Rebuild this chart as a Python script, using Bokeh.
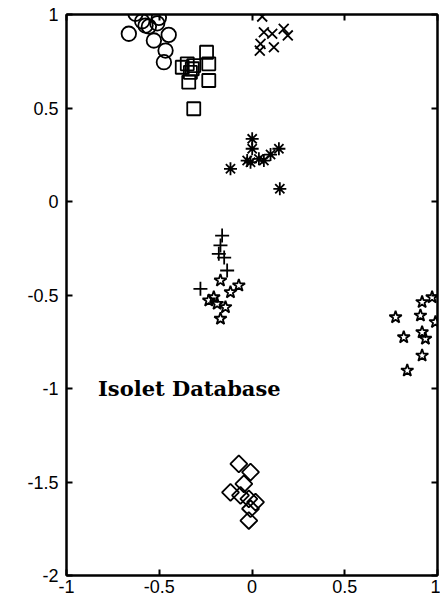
import numpy as np
from bokeh.plotting import figure
from bokeh.models import LinearAxis, FixedTicker
from bokeh.core.properties import value
from bokeh.embed import file_html
from bokeh.resources import INLINE

# ---- data ----
circle_x = [-0.628, -0.592, -0.502, -0.511, -0.556, -0.664, -0.449, -0.529, -0.466, -0.475, -0.574]
circle_y = [1.004, 0.964, 0.982, 0.953, 0.936, 0.897, 0.891, 0.861, 0.807, 0.745, 0.941]

square_x = [-0.245, -0.233, -0.349, -0.376, -0.322, -0.341, -0.233, -0.314, -0.314, -0.332]
square_y = [0.798, 0.736, 0.736, 0.718, 0.710, 0.638, 0.647, 0.496, 0.727, 0.691]

xmark_x = [0.055, 0.064, 0.109, 0.171, 0.193, 0.046, 0.118, 0.042]
xmark_y = [0.989, 0.905, 0.897, 0.923, 0.888, 0.843, 0.825, 0.807]

aster_x = [0.001, 0.001, -0.026, -0.008, 0.064, 0.100, 0.145, -0.116, 0.150, 0.037]
aster_y = [0.335, 0.282, 0.219, 0.210, 0.219, 0.251, 0.282, 0.175, 0.068, 0.228]

plus_x = [-0.161, -0.170, -0.179, -0.134, -0.278, -0.150]
plus_y = [-0.182, -0.235, -0.280, -0.369, -0.467, -0.300]

star_x = [-0.170, -0.071, -0.116, -0.233, -0.188, -0.143, -0.170, -0.206,
          0.917, 0.971, 0.774, 0.908, 0.989, 0.818, 0.917, 0.935, 0.917, 0.837]
star_y = [-0.422, -0.449, -0.485, -0.529, -0.547, -0.565, -0.627, -0.512,
          -0.538, -0.512, -0.619, -0.610, -0.645, -0.726, -0.699, -0.734, -0.824, -0.904]

diamond_x = [-0.071, -0.008, -0.044, -0.116, -0.062, -0.017, 0.019, -0.008, -0.017]
diamond_y = [-1.403, -1.447, -1.510, -1.555, -1.572, -1.590, -1.608, -1.643, -1.706]

x_ticks = [-1, -0.5, 0, 0.5, 1]
y_ticks = [-2, -1.5, -1, -0.5, 0, 0.5, 1]
x_tick_labels = ["-1", "-0.5", "0", "0.5", "1"]
y_tick_labels = ["-2", "-1.5", "-1", "-0.5", "0", "0.5", "1"]
title_text = ["Isolet Database"]
title_x = [-0.83]
title_y = [-1.0]

# ---- figure ----
p = figure(width=440, height=607, x_range=(-1, 1), y_range=(-2, 1),
           output_backend="svg", toolbar_location=None,
           min_border_left=66, min_border_right=3, min_border_top=14, min_border_bottom=32,
           x_axis_location=None, y_axis_location=None)
p.grid.visible = False
p.outline_line_color = "black"
p.outline_line_width = 2
p.background_fill_color = "white"
p.border_fill_color = "white"


def style_axis(ax, show_labels):
    ax.axis_line_color = "black"
    ax.axis_line_width = 2
    ax.major_tick_in = 6
    ax.major_tick_out = 0
    ax.major_tick_line_width = 2
    ax.minor_tick_line_color = None
    if show_labels:
        ax.major_label_text_font = "Liberation Sans"
        ax.major_label_text_font_size = "18px"
        ax.major_label_text_color = "black"
    else:
        ax.major_label_text_font_size = "1px"
        ax.major_label_text_color = None
        ax.major_label_standoff = 0


xt = FixedTicker(ticks=x_ticks)
yt = FixedTicker(ticks=y_ticks)

bx = LinearAxis(ticker=xt, major_label_overrides=dict(zip(x_ticks, x_tick_labels)))
style_axis(bx, True)
bx.major_label_standoff = 4
ly = LinearAxis(ticker=yt, major_label_overrides=dict(zip(y_ticks, y_tick_labels)))
style_axis(ly, True)
ly.major_label_standoff = 8
tx = LinearAxis(ticker=xt)
style_axis(tx, False)
ry = LinearAxis(ticker=yt)
style_axis(ry, False)
p.add_layout(bx, "below")
p.add_layout(ly, "left")
p.add_layout(tx, "above")
p.add_layout(ry, "right")

common = dict(fill_color=None, line_color="black", line_width=1.8)
p.scatter(circle_x, circle_y, marker="circle", size=14.5, **common)
p.scatter(square_x, square_y, marker="square", size=13, **common)
p.scatter(xmark_x, xmark_y, marker="x", size=14, **common)
p.scatter(aster_x, aster_y, marker="asterisk", size=13, **common)
p.scatter(plus_x, plus_y, marker="cross", size=14, **common)
p.scatter(star_x, star_y, marker="star", size=13, **common)
p.scatter(diamond_x, diamond_y, marker="square", size=12, angle=np.pi / 4, **common)

p.text(x=title_x, y=title_y, text=title_text, text_font=value("DejaVu Serif"),
       text_font_style="bold", text_font_size="21px", text_baseline="middle",
       text_color="black")

open("out.html", "w").write(file_html(p, INLINE))
